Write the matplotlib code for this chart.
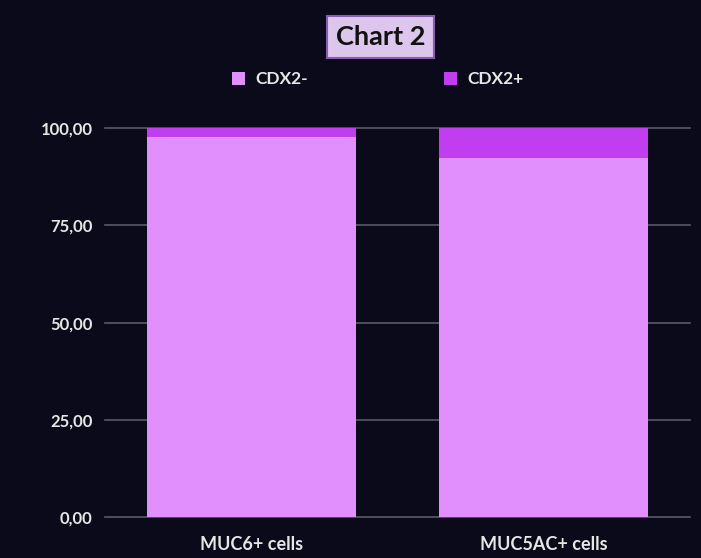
import matplotlib.pyplot as plt
from matplotlib.patches import Patch

categories = ['MUC6+ cells', 'MUC5AC+ cells']
cdx2_neg = [97.7, 92.3]
cdx2_pos = [2.3, 7.7]
series_names = ['CDX2-', 'CDX2+']
yticks = [0, 25, 50, 75, 100]

bg = '#0a0a1a'
col_neg = '#e08ffd'
col_pos = '#c03ef0'

plt.rcParams['font.family'] = ['Lato', 'DejaVu Sans']
plt.rcParams['font.weight'] = 'bold'
fig = plt.figure(figsize=(7.01, 5.58), dpi=100, facecolor=bg)
ax = fig.add_axes([0.150, 0.0735, 0.834, 0.697], facecolor=bg)

x = range(len(categories))
ax.bar(x, cdx2_neg, width=0.715, color=col_neg, zorder=3)
ax.bar(x, cdx2_pos, width=0.715, bottom=cdx2_neg, color=col_pos, zorder=3)

ax.set_xlim(-0.5, 1.5)
ax.set_ylim(0, 100)
ax.set_yticks(yticks)
ax.set_yticklabels([f'{v:.2f}'.replace('.', ',') for v in yticks])
ax.set_xticks(list(x))
ax.set_xticklabels(categories)
ax.tick_params(colors='#e6e6e6', length=0)
ax.tick_params(axis='y', labelsize=12, pad=9)
ax.tick_params(axis='x', labelsize=13, pad=14)
ax.grid(axis='y', color='#5a5a66', linewidth=1.2, zorder=1)
ax.set_axisbelow(True)
for s in ax.spines.values():
    s.set_visible(False)
for gl in ax.get_ygridlines():
    gl.set_clip_on(False)

fig.text(0.543, 0.933, 'Chart 2', ha='center', va='center', fontsize=19.5,
         color='#111111',
         bbox=dict(boxstyle='square,pad=0.33', facecolor='#dcc6ec', edgecolor='#8a5cb0', linewidth=1.5))

handles = [Patch(facecolor=col_neg), Patch(facecolor=col_pos)]
leg = fig.legend(handles, series_names, loc='center', bbox_to_anchor=(0.539, 0.858), ncol=2,
                 frameon=False, handlelength=0.75, handleheight=0.75, handletextpad=0.6,
                 columnspacing=7.8, fontsize=12.5)
for t in leg.get_texts():
    t.set_color('#e6e6e6')

fig.savefig('out.png', dpi=100, facecolor=bg)
